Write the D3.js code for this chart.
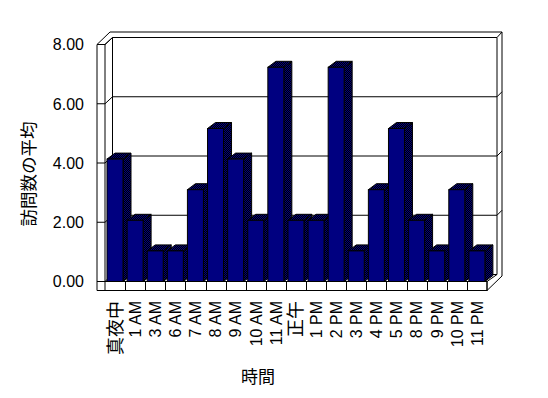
<!DOCTYPE html>
<html>
<head>
<meta charset="utf-8">
<script src="https://cdn.jsdelivr.net/npm/d3@7"></script>
<style>
  body { margin: 0; background: #fff; }
  text { font-family: "Liberation Sans", Arial, sans-serif; fill: #000; }
  text.cjk { font-family: "Noto Sans CJK JP", sans-serif; }
</style>
</head>
<body>
<div id="chart"></div>
<script>
// data
var categories = ['真夜中', '1 AM', '3 AM', '6 AM', '7 AM', '8 AM', '9 AM', '10 AM', '11 AM', '正午',
  '1 PM', '2 PM', '3 PM', '4 PM', '5 PM', '8 PM', '9 PM', '10 PM', '11 PM'];
var visits = [4, 2, 1, 1, 3, 5, 4, 2, 7, 2, 2, 7, 1, 3, 5, 2, 1, 3, 1];
var yTicks = [0, 2, 4, 6, 8];
var yTitle = '訪問数の平均';
var xTitle = '時間';

var width = 548, height = 398;

// frame geometry (3d box)
var wallLeft = 97, floorLeft = 105, backLeft = 112.5, backRight = 497, outerRight = 502,
  floorRight = 487, floorTop = 281.5, floorBottom = 290.5, outerTop = 32;
var depth = { dx: 8, dy: -6 };

var svg = d3.select('#chart').append('svg')
  .attr('width', width)
  .attr('height', height);

// checker pattern for the shaded sides
var pat = svg.append('defs').append('pattern')
  .attr('id', 'shade')
  .attr('patternUnits', 'userSpaceOnUse')
  .attr('width', 2).attr('height', 2);
pat.append('rect').attr('width', 2).attr('height', 2).attr('fill', '#000');
pat.append('rect').attr('width', 1).attr('height', 1).attr('fill', '#000080');
pat.append('rect').attr('x', 1).attr('y', 1).attr('width', 1).attr('height', 1).attr('fill', '#000080');

var x = d3.scaleBand().domain(categories).range([floorLeft, floorRight]);
var yFront = d3.scaleLinear().domain([0, 8]).range([281.5, 44.5]);
var yBack = d3.scaleLinear().domain([0, 8]).range([274.5, 37.5]);
var yBar = d3.scaleLinear().domain([0, 8]).range([floorTop, floorTop - 8 * 30.6]);

var frame = svg.append('g')
  .attr('fill', 'none')
  .attr('stroke', '#000')
  .attr('stroke-width', 1);

function line(g, pts) {
  g.append('path').attr('d', d3.line()(pts));
}

// walls outline
line(frame, [[wallLeft, floorBottom], [wallLeft, yFront(8)], [floorLeft, yFront(8)], [floorLeft, floorTop]]);
line(frame, [[wallLeft, yFront(8)], [110, outerTop], [outerRight, outerTop], [outerRight, 276], [floorRight, floorBottom]]);
line(frame, [[floorLeft, yFront(8)], [backLeft, yBack(8)], [backRight, yBack(8)], [backRight, yBack(0)], [floorRight, floorTop]]);
line(frame, [[backRight, yBack(8)], [outerRight, outerTop]]);
line(frame, [[backLeft, yBack(8)], [backLeft, yBack(0)]]);

// gridlines
yTicks.forEach(function (v) {
  if (v > 0 && v < 8) {
    line(frame, [[backLeft, yBack(v)], [backRight, yBack(v)]]);
    line(frame, [[backRight, yBack(v)], [outerRight, yBack(v) - 5]]);
  }
  line(frame, [[wallLeft, yFront(v)], [floorLeft, yFront(v)], [backLeft, yBack(v)]]);
});
line(frame, [[backLeft, yBack(0)], [backRight, yBack(0)]]);

// bars, drawn left to right so each covers the previous side
var bars = svg.append('g').attr('stroke', '#000').attr('stroke-width', 1);
visits.forEach(function (v, i) {
  var x0 = x(categories[i]) + 2, w = 16, yt = yBar(v), yb = floorTop;
  var g = bars.append('g');
  g.append('path')
    .attr('fill', 'url(#shade)')
    .attr('d', d3.line()([[x0 + w, yt], [x0 + w + depth.dx, yt + depth.dy], [x0 + w + depth.dx, yb + depth.dy], [x0 + w, yb]]) + 'Z');
  g.append('path')
    .attr('fill', 'url(#shade)')
    .attr('d', d3.line()([[x0, yt], [x0 + depth.dx, yt + depth.dy], [x0 + w + depth.dx, yt + depth.dy], [x0 + w, yt]]) + 'Z');
  g.append('rect')
    .attr('x', x0).attr('y', yt)
    .attr('width', w).attr('height', yb - yt)
    .attr('fill', '#000080');
});

// floor front face
var floor = svg.append('g').attr('fill', 'none').attr('stroke', '#000');
floor.append('rect')
  .attr('x', floorLeft).attr('y', floorTop)
  .attr('width', floorRight - floorLeft).attr('height', floorBottom - floorTop)
  .attr('fill', '#fff');
line(floor, [[wallLeft, floorBottom], [floorRight, floorBottom]]);
categories.slice(1).forEach(function (c) {
  var xx = Math.round(x(c)) + 0.5;
  line(floor, [[xx, floorTop], [xx, floorBottom]]);
});
line(floor, [[floorRight, floorTop], [floorRight, floorBottom]]);

// y tick labels
svg.append('g').selectAll('text')
  .data(yTicks)
  .join('text')
  .attr('x', 84)
  .attr('y', d => yFront(d))
  .attr('dy', '0.36em')
  .attr('text-anchor', 'end')
  .attr('font-size', 16)
  .text(d => d.toFixed(2));

// x tick labels (rotated)
var isLatin = d => /[A-Z0-9]/.test(d);
svg.append('g').selectAll('text')
  .data(categories)
  .join('text')
  .attr('class', d => isLatin(d) ? null : 'cjk')
  .attr('transform', d => 'translate(' + (x(d) + x.bandwidth() / 2) + ',301) rotate(-90)')
  .attr('dy', '0.36em')
  .attr('text-anchor', 'end')
  .attr('font-size', d => isLatin(d) ? 16 : 18)
  .text(d => d);

// axis titles
svg.append('text')
  .attr('class', 'cjk')
  .attr('transform', 'translate(29,174) rotate(-90)')
  .attr('dy', '0.36em')
  .attr('text-anchor', 'middle')
  .attr('font-size', 17.5)
  .text(yTitle);

svg.append('text')
  .attr('class', 'cjk')
  .attr('x', 258)
  .attr('y', 377)
  .attr('dy', '0.36em')
  .attr('text-anchor', 'middle')
  .attr('font-size', 17)
  .text(xTitle);
</script>
</body>
</html>
